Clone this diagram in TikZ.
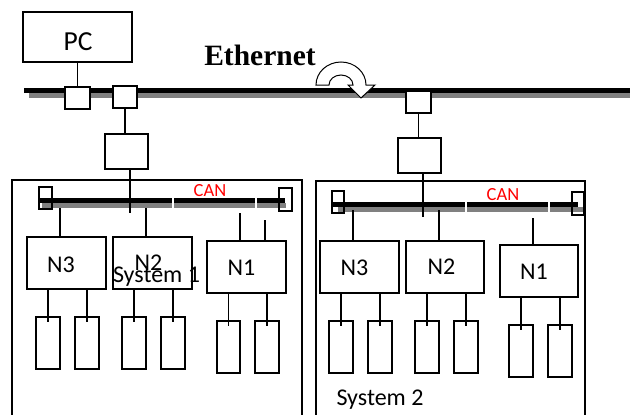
\documentclass[tikz,border=0pt]{standalone}
\usepackage{fontspec}
\setmainfont{Carlito}
\newfontfamily\ethfont{Liberation Serif}
\usetikzlibrary{fit}
\begin{document}
\begin{tikzpicture}[x=1pt,y=-1pt,
  box/.style={draw,line width=1.5pt,inner sep=0pt,outer sep=0pt,fill=white},
  obox/.style={draw,line width=1.5pt,inner sep=0pt,outer sep=0pt},
  wire/.style={line width=1.5pt},
  busk/.style={line width=5pt,draw=black},
  busg/.style={line width=5pt,draw=gray},
  gap/.style={draw=white,line width=1.6pt},
  lbl/.style={anchor=base,inner sep=0pt,outer sep=0pt},
  big/.style={font=\fontsize{27.5}{27.5}\selectfont},
  mid/.style={font=\fontsize{24}{24}\selectfont},
  can/.style={font=\fontsize{18.5}{18.5}\selectfont,text=red}]
\useasboundingbox (0,0) rectangle (630,415);
\begin{scope}
\clip (0,0) rectangle (630,415);
% system frames
\node[obox, fit={(12,180) (302,440)}] (sys1) {};
\node[obox, fit={(316,181) (585,440)}] (sys2) {};
% ethernet
\draw[busg] (29,95.5) -- (630,95.5);
\draw[busk] (24,90.5) -- (630,90.5);
\node[lbl, font=\ethfont\bfseries\fontsize{29.5}{29.5}\selectfont] (eth) at (260,65) {Ethernet};
% u-turn arrow
\draw[line width=1pt, fill=white] (316,85) arc[start angle=180, end angle=360, x radius=25, y radius=23]
  -- (375,85) -- (361,98) -- (348,85) -- (353,85)
  arc[start angle=360, end angle=180, x radius=12, y radius=10] -- cycle;
% PC and taps
\node[box, fit={(23,12) (132,62)}] (pc) {};
\node[lbl, big] (pct) at (78,50) {PC};
\node[box, fit={(65,87) (90,109)}] (t1) {};
\node[box, fit={(113,86) (137,108)}] (t2) {};
\node[box, fit={(406,91) (431,113)}] (t3) {};
\draw[wire] (pc) -- (t1);
\node[box, fit={(105,134) (148,169)}] (gw1) {};
\node[box, fit={(398,138) (441,173)}] (gw2) {};
\draw[wire] (t2.south) -- (t2.south |- gw1.north);
\draw[wire] (t3.south) -- (t3.south |- gw2.north);
% ---------- System 1 CAN ----------
\draw[busg] (42,205.8) -- (286,205.8);
\draw[busk] (39,200.8) -- (285,200.8);
\draw[gap] (173,196) -- (173,210);
\draw[gap] (256,196) -- (256,210);
\node[obox, fit={(39,187) (52,209)}] (term1l) {};
\node[obox, fit={(279,188) (292,211)}] (term1r) {};
\node[lbl, can] (can1) at (210,196) {CAN};
\coordinate (g1end) at (130,213);
\draw[wire] (gw1.south -| g1end) -- (g1end);
\node[obox, fit={(27,237) (106,289)}] (n3a) {};
\node[obox, fit={(113,237) (192,289)}] (n2a) {};
\node[obox, fit={(207,241) (286,293)}] (n1a) {};
\node[lbl, mid] (n3at) at (61,272) {N3};
\node[lbl, mid] (n2at) at (148.5,270) {N2};
\node[lbl, mid] (n1at) at (241.5,275) {N1};
\coordinate (ka) at (60,208);
\coordinate (kb) at (146,208);
\coordinate (kc) at (240,213);
\coordinate (kd) at (265,220);
\draw[wire] (ka) -- (ka |- n3a.north);
\draw[wire] (kb) -- (kb |- n2a.north);
\draw[wire] (kc) -- (kc |- n1a.north);
\draw[wire] (kd) -- (kd |- n1a.north);
\node[obox, fit={(36,317) (60,369)}] (la1) {};
\node[obox, fit={(75,317) (99,369)}] (la2) {};
\node[obox, fit={(122,317) (146,369)}] (la3) {};
\node[obox, fit={(161,317) (185,369)}] (la4) {};
\node[obox, fit={(217,321) (240,373)}] (la5) {};
\node[obox, fit={(255,321) (279,373)}] (la6) {};
\foreach \l/\n in {la1/n3a,la2/n3a,la3/n2a,la4/n2a,la5/n1a,la6/n1a}
  \draw[wire] (\l.north |- \n.south) -- ([yshift=-5pt]\l.north);
\node[lbl, mid] (sys1t) at (156.5,282) {System 1};
% ---------- System 2 CAN ----------
\draw[busg] (338,209.5) -- (584,209.5);
\draw[busk] (333,204.2) -- (578,204.2);
\draw[gap] (466,200) -- (466,214);
\draw[gap] (549,200) -- (549,214);
\node[obox, fit={(332,191) (344,213)}] (term2l) {};
\node[obox, fit={(572,192) (584,215)}] (term2r) {};
\node[lbl, can] (can2) at (503,200) {CAN};
\coordinate (g2end) at (423,217);
\draw[wire] (gw2.south -| g2end) -- (g2end);
\node[obox, fit={(320,241) (399,293)}] (n3b) {};
\node[obox, fit={(406,241) (484,293)}] (n2b) {};
\node[obox, fit={(500,245) (578,297)}] (n1b) {};
\node[lbl, mid] (n3bt) at (354.5,275) {N3};
\node[lbl, mid] (n2bt) at (441.5,274) {N2};
\node[lbl, mid] (n1bt) at (534,279) {N1};
\coordinate (ke) at (353,210);
\coordinate (kf) at (439,210);
\coordinate (kg) at (533,218);
\draw[wire] (ke) -- (ke |- n3b.north);
\draw[wire] (kf) -- (kf |- n2b.north);
\draw[wire] (kg) -- (kg |- n1b.north);
\node[obox, fit={(329,321) (353,373)}] (lb1) {};
\node[obox, fit={(368,321) (392,373)}] (lb2) {};
\node[obox, fit={(415,321) (439,373)}] (lb3) {};
\node[obox, fit={(454,321) (478,373)}] (lb4) {};
\node[obox, fit={(509,325) (533,377)}] (lb5) {};
\node[obox, fit={(548,325) (572,377)}] (lb6) {};
\foreach \l/\n in {lb1/n3b,lb2/n3b,lb3/n2b,lb4/n2b,lb5/n1b,lb6/n1b}
  \draw[wire] (\l.north |- \n.south) -- ([yshift=-5pt]\l.north);
\node[lbl, mid] (sys2t) at (380,405) {System 2};
\end{scope}
\end{tikzpicture}
\end{document}
